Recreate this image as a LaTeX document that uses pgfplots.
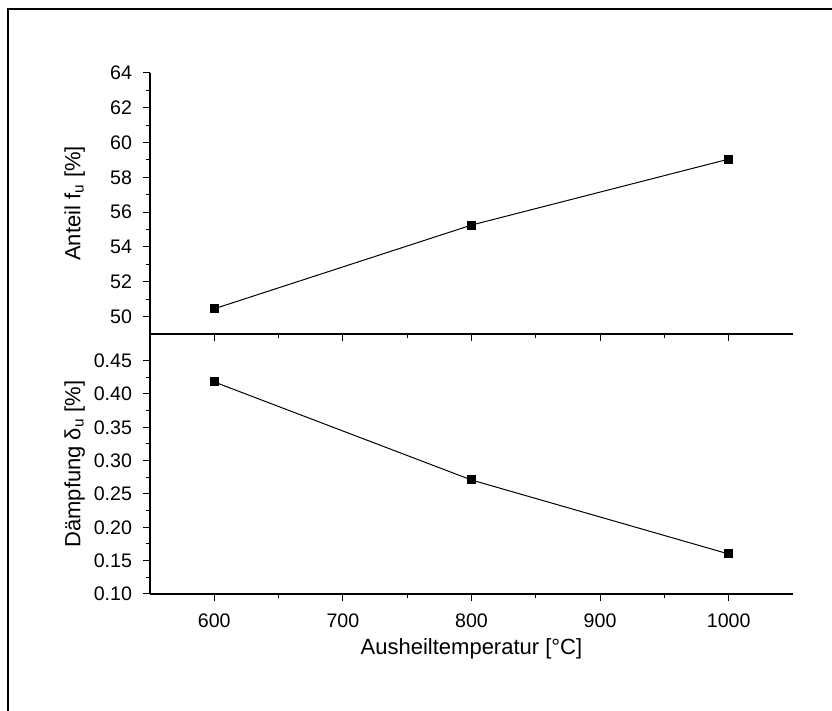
\documentclass[border=0pt]{standalone}
\usepackage{pgfplots}
\pgfplotsset{compat=1.18}
\usepackage{fontspec}
\setmainfont{Liberation Sans}
\begin{document}
\begin{tikzpicture}
\useasboundingbox (0,0) rectangle (416pt,355.5pt);
\draw[line width=1pt] (4pt,-10pt) -- (4pt,350.75pt) -- (430pt,350.75pt);
\pgfplotsset{
  myaxis/.style={
    scale only axis,
    width=321.5pt,
    xmin=550, xmax=1050,
    xtick={600,700,800,900,1000},
    minor x tick num=1,
    minor y tick num=1,
    axis x line=bottom,
    axis y line=left,
    axis line style={-, line width=0.6pt, black},
    tick align=outside,
    tick style={black, line width=0.5pt},
    major tick length=3.5pt,
    minor tick length=2pt,
    /pgf/number format/assume math mode=true,
    /pgf/number format/set thousands separator={},
    tick label style={font=\fontsize{9.8}{11}\selectfont},
    xticklabel style={yshift=-3pt},
    yticklabel style={xshift=-2pt},
    label style={font=\fontsize{11}{13}\selectfont},
    ylabel style={at={(axis description cs:-0.117,0.5)}, anchor=center},
  },
  myplot/.style={black, line width=0.5pt, mark=square*, mark size=2pt, mark options={solid, fill=black}},
}
\begin{axis}[myaxis,
  at={(75pt,188.5pt)}, anchor=south west,
  height=130.5pt,
  ymin=49, ymax=64,
  ytick={50,52,54,56,58,60,62,64},
  xticklabels={},
  ylabel={Anteil f\textsubscript{u} [\%]},
]
\addplot[myplot] coordinates {(600,50.45) (800,55.26) (1000,59.05)};
\end{axis}
\begin{axis}[myaxis,
  at={(75pt,58.5pt)}, anchor=south west,
  height=130pt,
  ymin=0.10, ymax=0.49,
  ytick={0.10,0.15,0.20,0.25,0.30,0.35,0.40,0.45},
  yticklabel style={/pgf/number format/fixed, /pgf/number format/precision=2, /pgf/number format/fixed zerofill},
  ylabel={Dämpfung δ\textsubscript{u} [\%]},
  xlabel={Ausheiltemperatur [°C]},
  xlabel style={at={(axis description cs:0.5,-0.21)}, anchor=center},
]
\addplot[myplot] coordinates {(600,0.418) (800,0.271) (1000,0.160)};
\end{axis}
\end{tikzpicture}
\end{document}
